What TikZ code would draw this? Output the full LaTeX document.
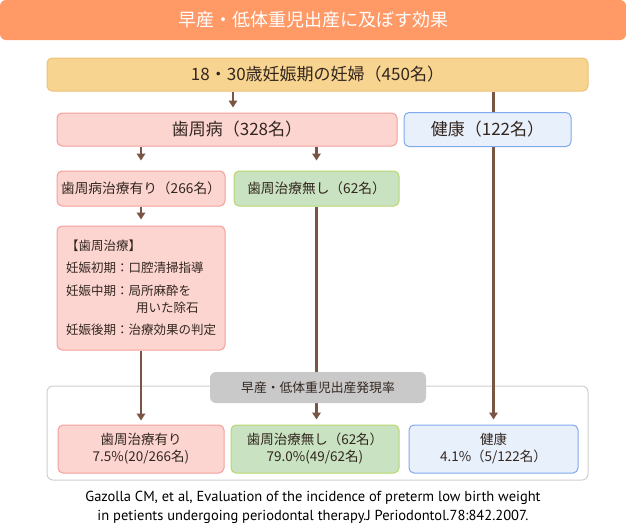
\documentclass[tikz,border=0pt]{standalone}
\usepackage{fontspec}
\setmainfont{Noto Sans CJK JP}
\newfontfamily\citefont{PT Sans}
\usetikzlibrary{arrows.meta,backgrounds}
\definecolor{titleorange}{HTML}{FF9966}
\definecolor{topfill}{HTML}{F7D48F}
\definecolor{topline}{HTML}{EDC27A}
\definecolor{pinkfill}{HTML}{FCD5D1}
\definecolor{pinkline}{HTML}{F4A09A}
\definecolor{greenfill}{HTML}{C8E2C2}
\definecolor{greenline}{HTML}{B8D86B}
\definecolor{bluefill}{HTML}{E8F0FC}
\definecolor{blueline}{HTML}{80A8EC}
\definecolor{grayfill}{HTML}{C9C9C9}
\definecolor{frameline}{HTML}{CFCFCF}
\definecolor{linkbrown}{HTML}{7A5544}
\definecolor{txtbrown}{HTML}{33261F}

\begin{document}
\begin{tikzpicture}[x=1pt,y=-1pt,
  box/.style={rounded corners=5pt,line width=1pt,inner sep=0pt,text=txtbrown},
  topbox/.style={box,fill=topfill,draw=topline},
  pinkbox/.style={box,fill=pinkfill,draw=pinkline},
  greenbox/.style={box,fill=greenfill,draw=greenline},
  bluebox/.style={box,fill=bluefill,draw=blueline},
  big/.style={font=\fontsize{17}{20}\selectfont},
  mid/.style={font=\fontsize{13.7}{16}\selectfont},
  res/.style={font=\fontsize{13.5}{17}\selectfont,align=center},
  link/.style={draw=linkbrown,line width=2.6pt,-{Triangle[width=8.5pt,length=7pt]}}]
\useasboundingbox (0,0) rectangle (626,530);
\node[fill=titleorange,rounded corners=6pt,minimum width=626pt,minimum height=40pt,inner sep=0pt,
  text=white,font=\fontsize{18}{21}\selectfont] (title) at (313,20) {早産・低体重児出産に及ぼす効果};
\node[topbox,big,minimum width=541pt,minimum height=33pt] (top) at (317.5,74.5) {18・30歳妊娠期の妊婦（450名）};
\node[pinkbox,big,minimum width=340pt,minimum height=33pt] (perio) at (227,129.5) {\hspace*{20pt}歯周病（328名）};
\node[bluebox,big,minimum width=167pt,minimum height=34pt] (healthy) at (487.5,129.5) {健康（122名）};
\node[pinkbox,mid,minimum width=168pt,minimum height=35pt] (treat) at (141,188.5) {歯周病治療有り（266名）};
\node[greenbox,mid,minimum width=165pt,minimum height=35pt] (notreat) at (316.5,188.5) {歯周治療無し（62名）};
\node[pinkbox,font=\fontsize{12.5}{15}\selectfont,minimum width=168pt,minimum height=124pt,
  text width=150pt,align=left] (care) at (141,288)
  {【歯周治療】\\[7pt]妊娠初期：口腔清掃指導\\[8pt]妊娠中期：局所麻酔を\\[2pt]\hspace*{5.6em}用いた除石\\[7pt]妊娠後期：治療効果の判定};
\node[fill=grayfill,rounded corners=6pt,font=\fontsize{12.8}{15}\selectfont,minimum width=216pt,minimum height=31pt,inner sep=0pt,
  text=txtbrown] (rate) at (318,387.5) {早産・低体重児出産発現率};
\node[pinkbox,res,minimum width=166pt,minimum height=48pt] (r1) at (141,449) {歯周治療有り\\7.5\%(20/266名)};
\node[greenbox,res,minimum width=168pt,minimum height=48pt] (r2) at (315,449) {歯周治療無し（62名）\\79.0\%(49/62名)};
\node[bluebox,res,minimum width=169pt,minimum height=48pt] (r3) at (493.5,449) {健康\\4.1\%（5/122名）};
\node[font=\citefont\fontsize{14.5}{19}\selectfont,align=center,text=black] (cite) at (313,507.5)
  {Gazolla CM, et al, Evaluation of the incidence of preterm low birth weight\\in petients undergoing periodontal therapy.J Periodontol.78:842.2007.};
\coordinate (xa) at (233,0);
\begin{scope}[on background layer]
\node[draw=frameline,line width=1pt,rounded corners=6pt,fill=white,minimum width=541pt,minimum height=94pt] (frame) at (317.5,433) {};
\draw[link,shorten >=5pt] (top.south -| xa) -- (perio.north -| xa);
\draw[link,shorten >=10pt] (perio.south -| treat) -- (treat.north);
\draw[link,shorten >=10pt] (perio.south -| notreat) -- (notreat.north);
\draw[link,shorten >=6pt] (treat.south) -- (care.north);
\draw[link,shorten >=4pt] (care.south) -- (r1.north);
\draw[link,shorten >=5pt] (notreat.south) -- (r2.north -| notreat.south);
\draw[link,shorten >=5pt] (top.south -| r3) -- (r3.north);
\end{scope}
\end{tikzpicture}
\end{document}
